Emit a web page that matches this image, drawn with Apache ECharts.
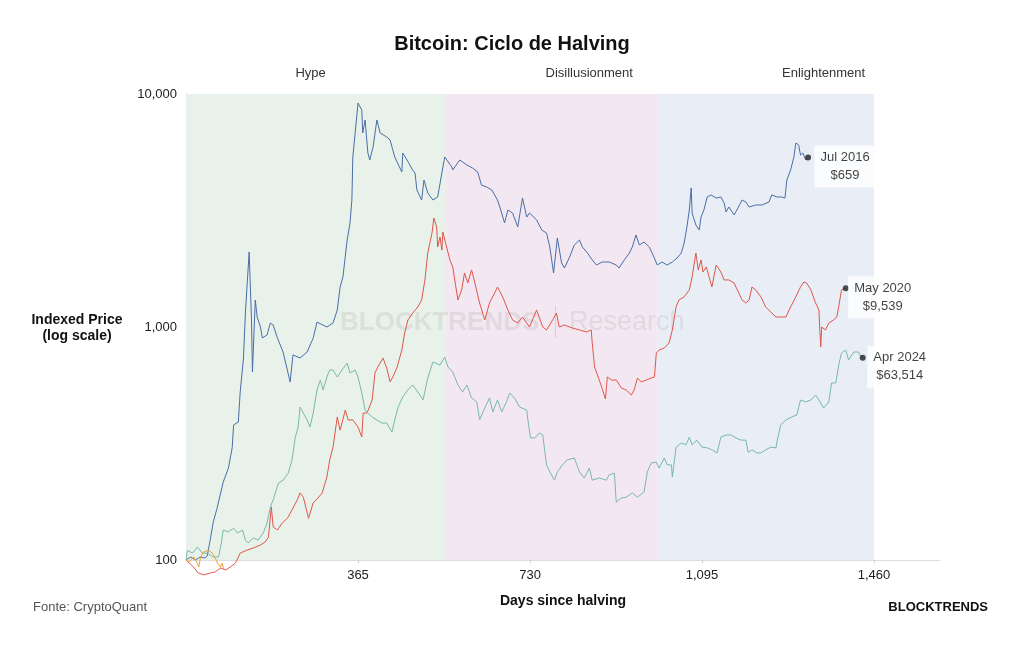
<!DOCTYPE html>
<html><head><meta charset="utf-8">
<script src="https://cdn.jsdelivr.net/npm/echarts@6/dist/echarts.min.js"></script>
<style>html,body{margin:0;padding:0;background:#fff}#c{width:1024px;height:645px}</style>
</head><body><div id="c"></div>
<script>
// Indexed price (100 = price on halving day) vs days since halving
const cycle2012 = [[0,100],[10,103],[20,100],[30,103],[40,102],[45,104],[52,124],[58,146],[66,167],[79,216],[90,248],[98,303],[101,380],[111,391],[115,526],[122,736],[126,1148],[134,2099],[139,1072],[141,641],[147,1306],[151,1104],[158,1000],[162,897],[172,924],[179,1040],[185,1020],[194,897],[206,781],[221,581],[227,759],[242,736],[257,781],[270,897],[278,1050],[299,1000],[312,1040],[321,1183],[327,1485],[333,1640],[342,2362],[348,2795],[352,3508],[354,5365],[359,6803],[365,9147],[373,8535],[375,6803],[380,7733],[386,5580],[390,5210],[397,5927],[405,7733],[412,6803],[426,6537],[433,6350],[443,5365],[458,4627],[460,5580],[469,5210],[481,4720],[486,4581],[490,3872],[500,3508],[505,4274],[513,3758],[524,3508],[534,3614],[543,4581],[549,5365],[564,4860],[566,4720],[581,5210],[596,4957],[608,4813],[619,4627],[627,4066],[638,3989],[649,3872],[661,3508],[666,3273],[676,2795],[683,3178],[693,3085],[704,2687],[714,3578],[723,2965],[729,3085],[744,2879],[755,2608],[765,2531],[772,2205],[780,1705],[788,2411],[797,1883],[803,1791],[814,1996],[824,2249],[835,2362],[841,2205],[852,2078],[862,1940],[871,1845],[883,1901],[898,1901],[913,1845],[919,1791],[930,1940],[941,2078],[947,2205],[955,2483],[962,2249],[972,2316],[983,2205],[993,1996],[1000,1845],[1010,1901],[1021,1845],[1032,1901],[1042,1977],[1051,2078],[1057,2293],[1063,2687],[1068,3178],[1072,3951],[1074,3085],[1082,2740],[1089,2608],[1093,2965],[1099,3178],[1106,3614],[1114,3688],[1125,3578],[1135,3614],[1142,3405],[1146,3116],[1152,3273],[1163,3025],[1169,3178],[1180,3508],[1188,3438],[1195,3273],[1209,3339],[1222,3339],[1237,3438],[1243,3688],[1254,3614],[1264,3614],[1271,3578],[1275,4274],[1283,4720],[1290,5365],[1294,6160],[1300,6043],[1304,5471],[1309,5580],[1315,5210],[1320,5336]];
const cycle2016 = [[0,100],[16,93.3],[26,88],[37,86.3],[52,88],[62,88.8],[73,92.4],[84,90.6],[94,93.3],[105,97.1],[115,107],[130,110.4],[143,112.6],[158,116],[168,119.5],[175,125.5],[181,169],[185,138.6],[194,134.5],[204,144],[215,151],[225,164],[236,181],[242,194],[249,186],[260,151],[270,176],[280,184.5],[289,194],[299,227],[305,269],[312,305],[321,411],[327,361],[338,440],[344,399],[354,399],[365,372],[373,337],[376,427],[384,427],[395,486],[401,635],[407,673],[418,736],[426,667],[433,581],[439,610],[448,673],[458,797],[464,943],[471,1072],[481,1148],[492,1219],[500,1306],[507,1592],[513,2078],[522,2531],[526,2937],[532,2687],[534,2205],[539,2432],[543,2138],[545,2558],[553,2205],[560,1940],[566,1811],[577,1306],[585,1442],[591,1705],[598,1545],[606,1758],[613,1545],[623,1268],[634,1072],[644,1268],[655,1400],[661,1485],[672,1346],[683,1183],[693,1072],[704,1040],[714,1104],[729,1000],[744,1183],[757,1000],[765,971],[778,1072],[786,1148],[792,1000],[803,1020],[820,990],[835,971],[850,952],[860,971],[862,854],[867,673],[877,592],[884,537],[890,491],[894,610],[903,592],[913,592],[924,547],[934,537],[945,511],[951,537],[958,604],[966,581],[977,592],[987,604],[994,610],[998,773],[1004,797],[1015,813],[1025,854],[1032,971],[1040,1219],[1046,1306],[1057,1346],[1068,1442],[1074,1640],[1082,2078],[1087,1758],[1093,1940],[1097,1722],[1104,1811],[1110,1640],[1116,1485],[1125,1845],[1135,1722],[1142,1592],[1152,1592],[1163,1545],[1173,1400],[1180,1306],[1188,1268],[1195,1306],[1201,1485],[1209,1442],[1220,1346],[1230,1219],[1241,1159],[1252,1104],[1262,1104],[1273,1104],[1283,1219],[1294,1346],[1304,1485],[1311,1560],[1317,1545],[1326,1442],[1336,1268],[1343,1183],[1345,971],[1347,821],[1349,1000],[1357,971],[1364,1040],[1374,1072],[1381,1104],[1385,1219],[1391,1442],[1400,1466]];
const cycle2020 = [[0,100],[3,110],[14,107],[24,113.7],[35,107],[45,107],[58,103],[69,103],[75,118.3],[79,134.5],[90,132],[101,137],[109,130.6],[120,134.5],[126,121.8],[132,118.3],[143,124.3],[153,121.8],[164,130.6],[172,144],[179,169],[185,181],[196,214],[206,220],[217,236],[225,269],[232,337],[238,372],[242,453],[249,427],[257,399],[263,372],[270,427],[278,537],[285,592],[291,537],[299,610],[305,654],[312,654],[321,610],[331,654],[342,700],[348,635],[359,654],[365,610],[373,521],[380,440],[386,427],[395,411],[405,399],[416,387],[426,387],[437,354],[443,399],[450,453],[460,501],[471,537],[481,564],[492,526],[503,486],[507,477],[513,604],[524,708],[539,687],[549,743],[556,673],[566,641],[577,564],[587,526],[596,564],[606,496],[617,477],[623,399],[634,449],[644,496],[651,432],[661,486],[670,432],[680,477],[687,521],[697,496],[708,453],[723,440],[725,406],[731,334],[740,334],[750,351],[757,344],[765,256],[772,239],[782,220],[788,239],[799,256],[809,269],[824,274],[835,239],[845,225],[856,248],[862,220],[877,225],[892,220],[898,232],[909,236],[913,177],[924,184.5],[934,186],[947,194],[958,186],[972,196],[979,239],[987,261],[998,263],[1004,248],[1015,274],[1021,256],[1030,256],[1032,227],[1040,305],[1051,318],[1061,312],[1068,337],[1074,312],[1084,327],[1095,305],[1106,303],[1116,297],[1127,288],[1135,337],[1146,344],[1156,344],[1167,334],[1178,327],[1188,327],[1193,290],[1201,297],[1212,288],[1220,288],[1230,297],[1241,305],[1252,303],[1254,321],[1262,380],[1273,399],[1285,411],[1296,419],[1304,486],[1315,477],[1326,486],[1336,511],[1343,486],[1353,449],[1364,477],[1370,575],[1379,575],[1385,687],[1391,773],[1400,797],[1406,722],[1417,781],[1427,781],[1434,736],[1436,738]];
const cycle2024 = [[0,100],[6,98],[16,103],[24,97],[27,93.3],[31,103],[37,108],[47,110.4],[56,107],[63,101],[67,97],[73,93.3],[77,97],[80,90.6]];

const endLabels = ['Jul 2016\n$659', 'May 2020\n$9,539', 'Apr 2024\n$63,514'];
const phaseNames = ['Hype', 'Disillusionment', 'Enlightenment'];
const phaseBounds = [0, 550, 1000, 1460];
const xTicks = [365, 730, 1095, 1460];

const FONT = "'Liberation Sans', Arial, sans-serif";
const phaseColors = ['#e9f2ea', '#f3e8f1', '#e9eef6'];
const phaseOffsets = [[-5, -9], [38, -9], [58, -9]];

const chart = echarts.init(document.getElementById('c'), null, {renderer: 'canvas'});

const lineSeries = (name, data, color) => ({
  name, type: 'line', data, showSymbol: false, clip: false, z: 5,
  lineStyle: {color, width: 1}, itemStyle: {color}, animation: false, silent: true
});

const ends = [cycle2012, cycle2016, cycle2020].map((d, i) => ({
  value: d[d.length - 1],
  label: {formatter: endLabels[i]}
}));

chart.setOption({
  animation: false,
  textStyle: {fontFamily: FONT},
  title: {
    text: 'Bitcoin: Ciclo de Halving', left: 'center', top: 29,
    textStyle: {fontFamily: FONT, fontSize: 20, fontWeight: 'bold', color: '#111'}
  },
  grid: {left: 186, right: 84, top: 94, bottom: 85},
  xAxis: {
    type: 'value', min: 0, max: 1600, interval: 365,
    name: 'Days since halving', nameLocation: 'middle', nameGap: 34,
    nameTextStyle: {fontFamily: FONT, fontSize: 14, fontWeight: 'bold', color: '#111'},
    axisLine: {show: true, lineStyle: {color: '#dddddd', width: 1}},
    axisTick: {show: true, length: 3, lineStyle: {color: '#cccccc'}},
    splitLine: {show: false},
    axisLabel: {
      showMinLabel: false, showMaxLabel: false, color: '#222', fontSize: 13, margin: 9,
      formatter: v => xTicks.includes(v) ? v.toLocaleString('en-US') : ''
    }
  },
  yAxis: {
    type: 'log', logBase: 10, min: 100, max: 10000,
    axisLine: {show: true, lineStyle: {color: '#b8c4b8', width: 1}},
    axisTick: {show: false},
    splitLine: {show: false},
    axisLabel: {color: '#222', fontSize: 13, margin: 9, formatter: v => Number(v).toLocaleString('en-US')}
  },
  graphic: [
    {type: 'text', left: 33, top: 601, style: {text: 'Fonte: CryptoQuant', font: '13px ' + FONT, fill: '#555'}},
    {type: 'text', right: 36, top: 601, style: {text: 'BLOCKTRENDS', font: 'bold 13px ' + FONT, fill: '#111'}},
    {type: 'text', x: 77, y: 312, style: {text: 'Indexed Price\n(log scale)', font: 'bold 14px ' + FONT, fill: '#111', align: 'center', lineHeight: 16}},
    {type: 'group', z: 3, children: [
      {type: 'text', x: 340, y: 310, z: 3, style: {text: 'BLOCKTRENDS', font: 'bold 26px ' + FONT, fill: 'rgba(150,150,150,0.18)'}},
      {type: 'rect', x: 555, y: 306, z: 3, shape: {width: 1, height: 32}, style: {fill: 'rgba(150,150,150,0.3)'}},
      {type: 'text', x: 569, y: 309, z: 3, style: {text: 'Research', font: '27px ' + FONT, fill: 'rgba(150,150,150,0.18)'}}
    ]}
  ],
  series: [
    {
      name: 'phases', type: 'line', data: [], z: 1, silent: true,
      markArea: {
        silent: true,
        data: phaseNames.map((n, i) => [
          {xAxis: phaseBounds[i], yAxis: 100, name: n, itemStyle: {color: phaseColors[i]},
           label: {show: true, position: 'top', offset: phaseOffsets[i], color: '#333', fontSize: 13, fontFamily: FONT}},
          {xAxis: phaseBounds[i + 1], yAxis: 10000}
        ])
      }
    },
    lineSeries('2012', cycle2012, '#4a6ea8'),
    lineSeries('2016', cycle2016, '#e0564b'),
    lineSeries('2020', cycle2020, '#79b8a9'),
    lineSeries('2024', cycle2024, '#f0a035'),
    {
      name: 'ends', type: 'scatter', data: ends, symbolSize: 6, z: 10, silent: true,
      itemStyle: {color: '#222'},
      label: {
        show: true, position: 'right', distance: 4, align: 'center', offset: [30, 9],
        backgroundColor: '#ffffff', padding: [3, 6], lineHeight: 18,
        fontSize: 13, fontFamily: FONT, color: '#111'
      }
    }
  ]
});
</script></body></html>
